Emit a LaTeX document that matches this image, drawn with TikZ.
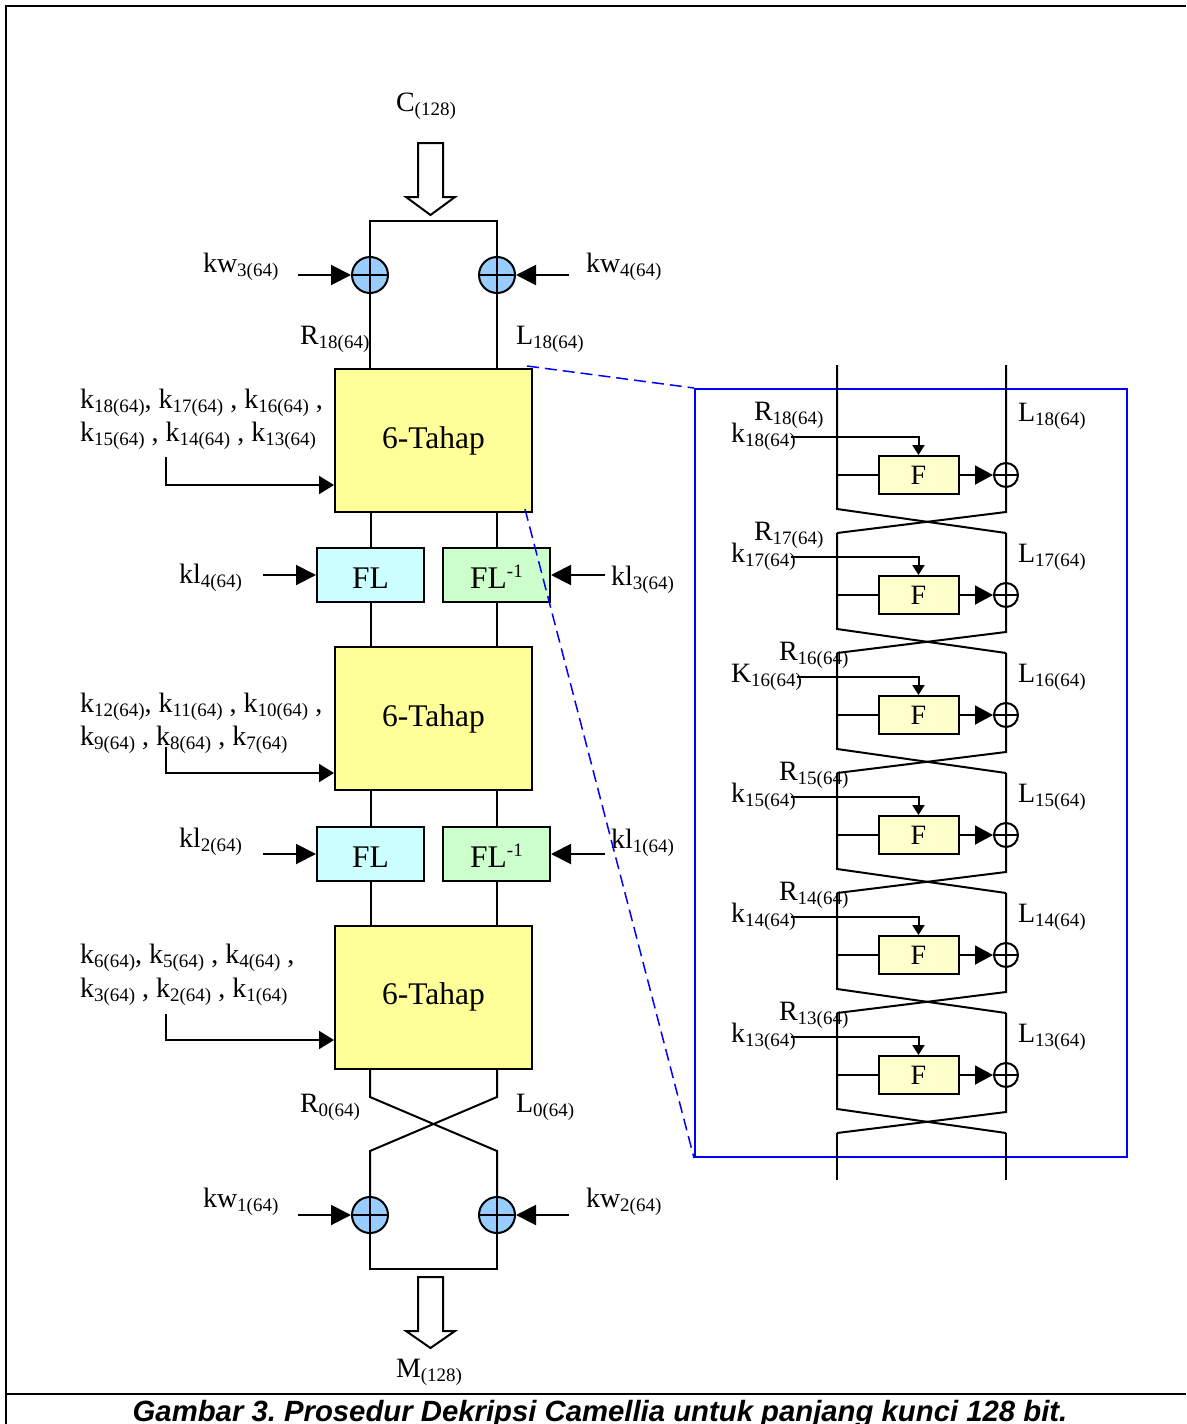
\documentclass[tikz,border=0pt]{standalone}
\usepackage{fontspec}
\setmainfont{Liberation Serif}
\newfontfamily\capfont{Liberation Sans}
\usetikzlibrary{arrows.meta}
\definecolor{tahapyellow}{HTML}{FFFF99}
\definecolor{flcyan}{HTML}{CCFFFF}
\definecolor{flgreen}{HTML}{CCFFCC}
\definecolor{fyellow}{HTML}{FFFFCC}
\definecolor{xorblue}{HTML}{99CCFF}
\definecolor{panelblue}{HTML}{0000FF}
\frenchspacing
% subscript / superscript in text
\newcommand\lo[1]{\raisebox{-4pt}{\fontsize{19}{20}\selectfont #1}}
\newcommand\hi[1]{\raisebox{11pt}{\fontsize{19}{20}\selectfont #1}}
\tikzset{
  lbl/.style={font=\fontsize{28}{30}\selectfont, inner sep=0pt, anchor=base west},
  tahap/.style={draw, line width=2pt, fill=tahapyellow, minimum width=197pt,
    minimum height=143pt, inner sep=0pt, font=\fontsize{31.5}{33}\selectfont},
  flbox/.style={draw, line width=2pt, minimum width=107pt, minimum height=54pt,
    inner sep=0pt, font=\fontsize{31.5}{33}\selectfont, text height=26pt, text depth=0pt},
  ffunc/.style={draw, line width=2pt, fill=fyellow, minimum width=80pt,
    minimum height=38pt, inner sep=0pt, font=\fontsize{28}{30}\selectfont},
  xorb/.style={circle, draw, line width=2pt, fill=xorblue, minimum size=36pt, inner sep=0pt,
    path picture={\draw[line width=2pt] (path picture bounding box.north) -- (path picture bounding box.south)
      (path picture bounding box.west) -- (path picture bounding box.east);}},
  xorw/.style={circle, draw, line width=2pt, minimum size=24pt, inner sep=0pt,
    path picture={\draw[line width=2pt] (path picture bounding box.north) -- (path picture bounding box.south)
      (path picture bounding box.west) -- (path picture bounding box.east);}},
  bigtip/.style={-{Triangle[length=20pt,width=20pt]}},
  midtip/.style={-{Triangle[length=15pt,width=18pt]}},
  smalltip/.style={-{Triangle[length=10pt,width=12pt]}},
  ftip/.style={-{Triangle[length=18pt,width=19pt]}},
  hollow/.style={draw, line width=2pt, fill=white, line join=miter},
}
\begin{document}
\begin{tikzpicture}[x=1pt, y=-1pt, line width=2pt]
\useasboundingbox (0,0) rectangle (1186,1424);
\clip (0,0) rectangle (1186,1424);
\fill[white] (0,0) rectangle (1186,1424);

% frame and caption rule
\draw[line width=2.5pt] (6,1424) -- (6,6) -- (1186,6);
\draw[line width=2.5pt] (6,1394) -- (1186,1394);
\node[font=\capfont\bfseries\itshape\fontsize{29.3}{30}\selectfont, inner sep=0pt, anchor=base] (cap)
  at (600,1421) {Gambar 3. Prosedur Dekripsi Camellia untuk panjang kunci 128 bit.};

% ---------- main decryption chain ----------
\node[lbl] (cin) at (395,111) {C\lo{(128)}};
\draw[hollow] (418,143) -- (443,143) -- (443,197) -- (455,197) -- (430.5,215) -- (406,197) -- (418,197) -- cycle;

\coordinate (tl) at (370,221);
\coordinate (tr) at (497,221);
\node[xorb] (XL1) at (370,275) {};
\node[xorb] (XR1) at (497,275) {};
\draw (XL1) -- (tl) -- (tr) -- (XR1);

\node[lbl] (kw3) at (202,272) {kw\lo{3(64)}};
\node[lbl] (kw4) at (585,272) {kw\lo{4(64)}};
\coordinate (kw3s) at (298,275);
\coordinate (kw4s) at (569,275);
\draw[bigtip] (kw3s) -- (XL1.west);
\draw[bigtip] (kw4s) -- (XR1.east);

\node[lbl] (r18) at (299,344) {R\lo{18(64)}};
\node[lbl] (l18) at (515,344) {L\lo{18(64)}};

% 6-round blocks
\node[tahap] (T1) at (433.5,440.5) {6-Tahap};
\node[tahap] (T2) at (433.5,718.5) {6-Tahap};
\node[tahap] (T3) at (433.5,997) {6-Tahap};

\draw (XL1) -- (XL1 |- T1.north);
\draw (XR1) -- (XR1 |- T1.north);

% FL layers
\node[flbox, fill=flcyan] (FLa1) at (370.5,575) {FL};
\node[flbox, fill=flgreen] (FLb1) at (496.5,575) {FL\hi{-1}};
\node[flbox, fill=flcyan] (FLa2) at (370.5,854) {FL};
\node[flbox, fill=flgreen] (FLb2) at (496.5,854) {FL\hi{-1}};

\draw (T1.south -| FLa1) -- (FLa1.north);
\draw (T1.south -| FLb1) -- (FLb1.north);
\draw (FLa1.south) -- (FLa1 |- T2.north);
\draw (FLb1.south) -- (FLb1 |- T2.north);
\draw (T2.south -| FLa2) -- (FLa2.north);
\draw (T2.south -| FLb2) -- (FLb2.north);
\draw (FLa2.south) -- (FLa2 |- T3.north);
\draw (FLb2.south) -- (FLb2 |- T3.north);

\node[lbl] (kl4) at (178,583) {kl\lo{4(64)}};
\node[lbl] (kl3) at (610,585) {kl\lo{3(64)}};
\node[lbl] (kl2) at (178,847) {kl\lo{2(64)}};
\node[lbl] (kl1) at (610,848) {kl\lo{1(64)}};
\coordinate (kl4s) at (263,575);
\coordinate (kl3s) at (605,575);
\coordinate (kl2s) at (263,854);
\coordinate (kl1s) at (605,854);
\draw[bigtip] (kl4s) -- (FLa1.west);
\draw[bigtip] (kl3s) -- (FLb1.east);
\draw[bigtip] (kl2s) -- (FLa2.west);
\draw[bigtip] (kl1s) -- (FLb2.east);

% subkey lists
\node[lbl] (ka1) at (79,408) {k\lo{18(64)}, k\lo{17(64)} , k\lo{16(64)} ,};
\node[lbl] (ka2) at (79,441) {k\lo{15(64)} , k\lo{14(64)} , k\lo{13(64)}};
\node[lbl] (kb1) at (79,712) {k\lo{12(64)}, k\lo{11(64)} , k\lo{10(64)} ,};
\node[lbl] (kb2) at (79,745) {k\lo{9(64)} , k\lo{8(64)} , k\lo{7(64)}};
\node[lbl] (kc1) at (79,963) {k\lo{6(64)}, k\lo{5(64)} , k\lo{4(64)} ,};
\node[lbl] (kc2) at (79,997) {k\lo{3(64)} , k\lo{2(64)} , k\lo{1(64)}};
\coordinate (kas) at (166,457);
\coordinate (kbs) at (166,747);
\coordinate (kcs) at (166,1014);
\draw[midtip] (kas) |- (T1.west |- 0,485);
\draw[midtip] (kbs) |- (T2.west |- 0,773);
\draw[midtip] (kcs) |- (T3.west |- 0,1040);

% final swap and whitening
\node[lbl] (r0) at (299,1112) {R\lo{0(64)}};
\node[lbl] (l0) at (515,1112) {L\lo{0(64)}};
\node[xorb] (XL2) at (370,1215) {};
\node[xorb] (XR2) at (497,1215) {};
\draw (T3.south -| XL2) -- (370,1097) -- (497,1151) -- (XR2);
\draw (T3.south -| XR2) -- (497,1097) -- (370,1151) -- (XL2);
\coordinate (bl) at (370,1269);
\coordinate (br) at (497,1269);
\draw (XL2) -- (bl) -- (br) -- (XR2);

\node[lbl] (kw1) at (202,1207) {kw\lo{1(64)}};
\node[lbl] (kw2) at (585,1207) {kw\lo{2(64)}};
\coordinate (kw1s) at (298,1215);
\coordinate (kw2s) at (569,1215);
\draw[bigtip] (kw1s) -- (XL2.west);
\draw[bigtip] (kw2s) -- (XR2.east);

\draw[hollow] (418,1277) -- (443,1277) -- (443,1331) -- (455,1331) -- (430.5,1348) -- (406,1331) -- (418,1331) -- cycle;
\node[lbl] (mout) at (395,1377) {M\lo{(128)}};

% ---------- detail of one 6-round block ----------
\node[draw=panelblue, line width=2pt, minimum width=432pt, minimum height=768pt, inner sep=0pt] (panel) at (911,773) {};
\coordinate (zt) at (527,366);
\coordinate (zb) at (525,509);
\draw[panelblue, line width=1.5pt, dash pattern=on 12pt off 6pt] (zt) -- (panel.north west);
\draw[panelblue, line width=1.5pt, dash pattern=on 12pt off 6pt] (zb) -- (panel.south west);

\foreach \i in {0,...,5}{
  \pgfmathtruncatemacro\n{18-\i}
  \pgfmathtruncatemacro\yF{475+120*\i}
  \pgfmathtruncatemacro\ytop{\i==0 ? 365 : 413+120*\i}
  \pgfmathtruncatemacro\ybl{509+120*\i}
  \pgfmathtruncatemacro\ybr{512+120*\i}
  \pgfmathtruncatemacro\ycr{533+120*\i}
  \pgfmathtruncatemacro\xR{\i<2 ? 753 : 778}
  \pgfmathtruncatemacro\yL{\i==0 ? 421 : 442+120*\i}
  \draw (837,\ytop) -- (837,\ybl) -- (1006,\ycr);
  \draw (1006,\ytop) -- (1006,\ybr) -- (837,\ycr);
  \node[ffunc] (F\i) at (918.5,\yF) {F};
  \node[xorw] (X\i) at (1006,\yF) {};
  \node[lbl] (R\i) at (\xR,420+120*\i) {R\lo{\n(64)}};
  \node[lbl] (k\i) at (730,442+120*\i) {\ifnum\i=2 K\else k\fi\lo{\n(64)}};
  \node[lbl] (L\i) at (1017,\yL) {L\lo{\n(64)}};
  \coordinate (in\i) at (837,\yF);
  \draw (in\i) -- (F\i.west);
  \draw[smalltip] ([xshift=-6pt,yshift=5pt]k\i.base east) -| (F\i.north);
  \draw[ftip] (F\i.east) -- (X\i.west);
}
\coordinate (ol) at (837,1180);
\coordinate (or) at (1006,1180);
\draw (837,1133) -- (ol);
\draw (1006,1133) -- (or);
\end{tikzpicture}
\end{document}
